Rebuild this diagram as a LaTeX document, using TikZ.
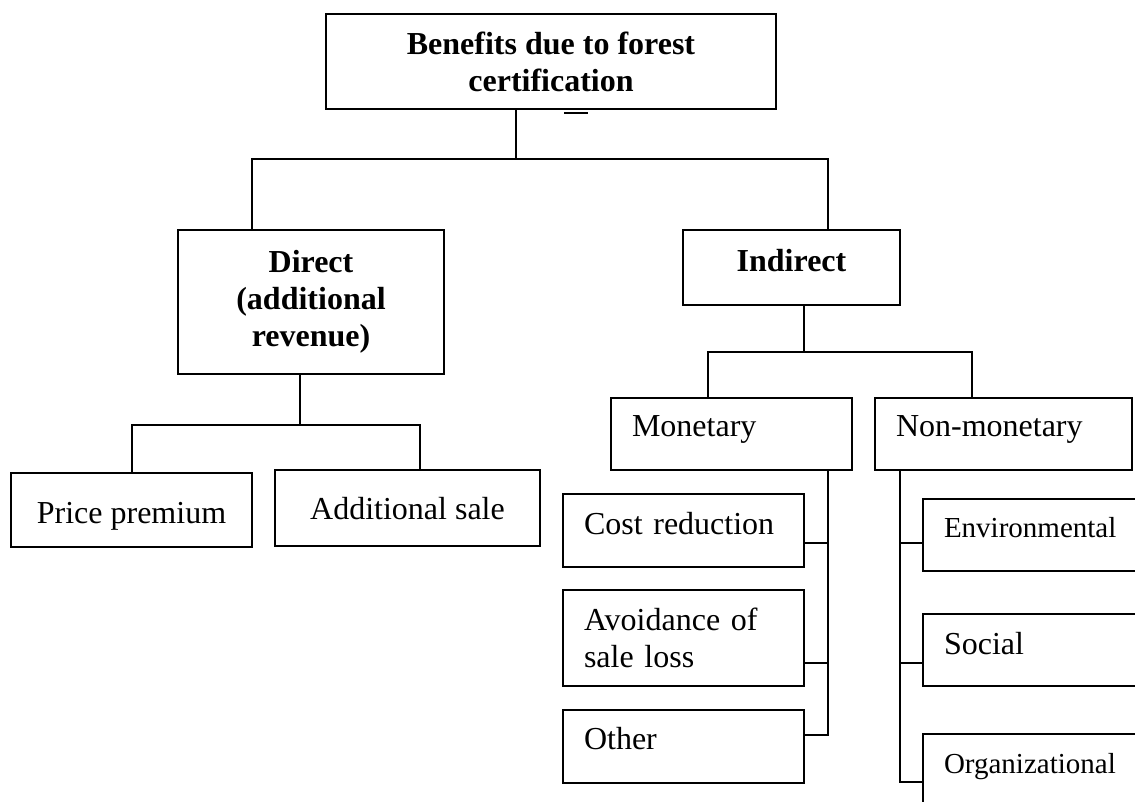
\documentclass[tikz,border=0pt]{standalone}
\usepackage{fontspec}
\setmainfont{Liberation Serif}
\usetikzlibrary{calc}

\newcommand{\bigtxt}{\fontsize{32}{37}\selectfont}
\newcommand{\smalltxt}{\fontsize{29}{34}\selectfont}

\tikzset{
  box/.style={draw, line width=2pt, inner sep=0pt, anchor=north west, font=\bigtxt},
  headbox/.style={box, align=center, font=\bigtxt\bfseries},
  leafbox/.style={box, align=center},
  listbox/.style={box, align=left, inner xsep=21pt},
  tb/.style 2 args={text height=#1, text depth=#2},
  link/.style={line width=2pt}
}

\begin{document}
\begin{tikzpicture}[x=1pt, y=-1pt]
  \path[use as bounding box, fill=white] (0,0) rectangle (1135,801);
  \clip (0,0) rectangle (1135,801);

  % Root
  \node[headbox, minimum width=450pt, minimum height=95pt] (top) at (325,13) {Benefits due to forest\\certification};
  \draw[link] ([xshift=13pt,yshift=-3pt]top.south) -- ++(24,0);

  % Direct / Indirect
  \node[headbox, minimum width=266pt, minimum height=144pt] (direct) at (177,229) {Direct\\(additional\\revenue)};
  \node[headbox, tb={22pt}{15pt}, minimum width=217pt, minimum height=75pt] (indirect) at (682,229) {Indirect};

  % Direct branch
  \node[leafbox, tb={28pt}{2pt}, minimum width=241pt, minimum height=74pt] (price) at (10,472) {Price premium};
  \node[leafbox, tb={24pt}{2pt}, minimum width=265pt, minimum height=76pt] (addsale) at (274,469) {Additional sale};

  % Indirect branch
  \node[listbox, tb={22pt}{18pt}, text width=199pt, minimum height=72pt] (mon) at (610,397) {Monetary};
  \node[listbox, tb={22pt}{18pt}, text width=215pt, minimum height=72pt] (nonmon) at (874,397) {Non-monetary};

  % Monetary items
  \node[listbox, tb={22pt}{15pt}, text width=199pt, minimum height=73pt] (cost) at (562,493) {Cost reduction};
  \node[listbox, text width=199pt, minimum height=96pt] (avoid) at (562,589) {Avoidance of\\sale loss};
  \node[listbox, tb={22pt}{17pt}, text width=199pt, minimum height=73pt] (other) at (562,709) {Other};

  % Non-monetary items
  \node[listbox, tb={22pt}{18pt}, text width=218pt, minimum height=72pt, font=\smalltxt] (env) at (922,498) {Environmental};
  \node[listbox, tb={22pt}{14pt}, text width=218pt, minimum height=72pt] (social) at (922,613) {Social};
  \node[listbox, tb={20pt}{20pt}, text width=218pt, minimum height=78pt, font=\smalltxt] (org) at (922,733) {Organizational};

  % Connectors
  \draw[link] ([xshift=-35pt]top.south) -- ++(0,49) coordinate (j0);
  \draw[link] ([xshift=-59pt]direct.north) |- (j0) -| ([xshift=36.5pt]indirect.north);

  \draw[link] ([xshift=-11pt]direct.south) -- ++(0,50) coordinate (j1);
  \draw[link] (price.north) |- (j1) -| ([xshift=12.5pt]addsale.north);

  \draw[link] ([xshift=12.5pt]indirect.south) -- ++(0,46) coordinate (j2);
  \draw[link] ([xshift=-23.5pt]mon.north) |- (j2) -| ([xshift=-31.5pt]nonmon.north);

  \coordinate (mbus) at ([xshift=96.5pt]mon.south);
  \draw[link] (mbus) |- ([yshift=11.5pt]other.east);
  \draw[link] ([yshift=-12.5pt]cost.east) -- ([yshift=-12.5pt]cost.east -| mbus);
  \draw[link] ([yshift=-25pt]avoid.east) -- ([yshift=-25pt]avoid.east -| mbus);

  \coordinate (nbus) at ([xshift=-103.5pt]nonmon.south);
  \draw[link] (nbus) |- ([yshift=-49pt]org.north west);
  \draw[link] ([yshift=-8pt]env.west) -- ([yshift=-8pt]env.west -| nbus);
  \draw[link] ([yshift=-13pt]social.west) -- ([yshift=-13pt]social.west -| nbus);
\end{tikzpicture}
\end{document}
